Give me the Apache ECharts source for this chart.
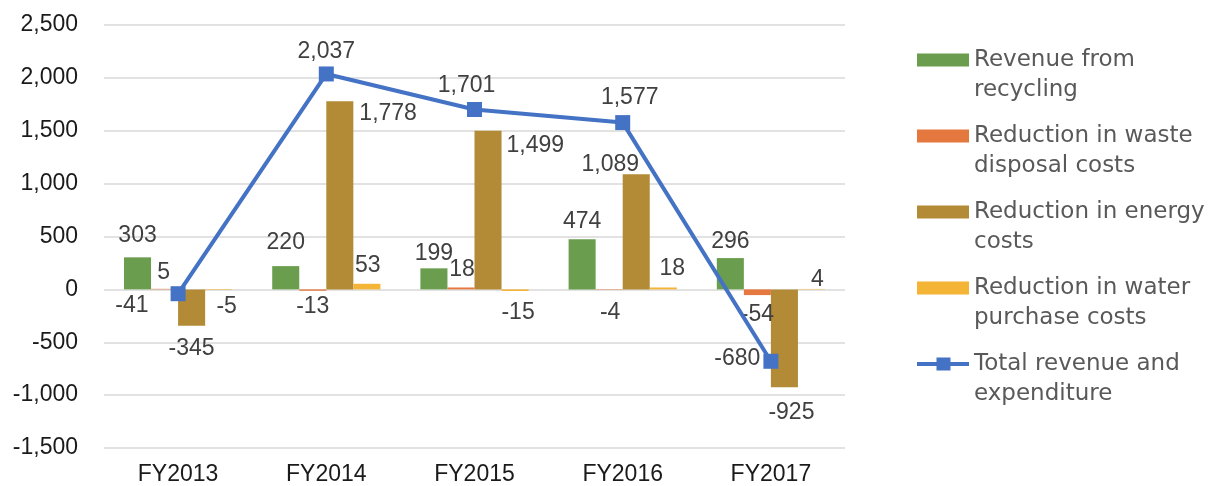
<!DOCTYPE html>
<html>
<head>
<meta charset="utf-8">
<script src="https://cdn.jsdelivr.net/npm/echarts@6/dist/echarts.min.js"></script>
<style>
html,body{margin:0;padding:0;background:#fff;}
#c{width:1212px;height:486px;}
</style>
</head>
<body>
<div id="c"></div>
<script>
const categories = ['FY2013', 'FY2014', 'FY2015', 'FY2016', 'FY2017'];
const recycling = [303, 220, 199, 474, 296];
const wasteDisposal = [5, -13, 18, -4, -54];
const energy = [-345, 1778, 1499, 1089, -925];
const water = [-5, 53, -15, 18, 4];
const total = [-41, 2037, 1701, 1577, -680];
const seriesNames = ['Revenue from recycling', 'Reduction in waste disposal costs', 'Reduction in energy costs', 'Reduction in water purchase costs', 'Total revenue and expenditure'];
const legendLabels = ['Revenue from\nrecycling', 'Reduction in waste\ndisposal costs', 'Reduction in energy\ncosts', 'Reduction in water\npurchase costs', 'Total revenue and\nexpenditure'];
const yTicks = {min: -1500, max: 2500, interval: 500};

const colors = ['#6A9E4E', '#E5783F', '#B38A35', '#F4B436', '#4472C4'];
const fmt = v => v.toLocaleString('en-US');
const labelFont = {fontFamily: 'Liberation Sans', fontSize: 23, color: '#404040'};

// label placement tweaks (style only)
const barLabelTweaks = [
  [{distance: 10}, {distance: 12}, {distance: 3}, {distance: 6}, {distance: 5}],
  [{distance: 5, offset: [-1, 0]}, {distance: 4}, {distance: 6, offset: [1, 0]}, {distance: 11, offset: [1, 0]}, {distance: 8}],
  [{distance: 11, offset: [0, 0]},
   {position: ['100%', 0], align: 'left', verticalAlign: 'top', offset: [6, 1]},
   {position: ['100%', 0], align: 'left', verticalAlign: 'top', offset: [5, 3]},
   {distance: -2, offset: [-26, 0]},
   {distance: 14, offset: [7, 0]}],
  [{distance: 5, offset: [8, 0]}, {distance: 7, offset: [1, 0]}, {distance: 10, offset: [3, 0]}, {distance: 7, offset: [9, 0]}, {distance: -2, offset: [6, 0]}]
];
const lineLabelTweaks = [
  {position: 'left', distance: 22, offset: [0, 12]},
  {position: 'top', distance: 3},
  {position: 'top', distance: 5, offset: [-8, 0]},
  {position: 'top', distance: 6, offset: [7, 0]},
  {position: 'left', distance: 3, offset: [0, -3]}
];

function barData(values, si) {
  return values.map((v, i) => {
    const t = barLabelTweaks[si][i];
    return {
      value: v,
      label: Object.assign({position: v >= 0 ? 'top' : 'bottom'}, t)
    };
  });
}

const barSeries = [recycling, wasteDisposal, energy, water].map((vals, si) => ({
  name: seriesNames[si],
  type: 'bar',
  data: barData(vals, si),
  itemStyle: {color: colors[si]},
  barGap: '0%',
  barCategoryGap: '27%',
  label: Object.assign({show: true, formatter: p => fmt(p.value)}, labelFont),
  z: 2
}));

const lineSeries = {
  name: seriesNames[4],
  type: 'line',
  data: total.map((v, i) => ({value: v, label: lineLabelTweaks[i]})),
  symbol: 'rect',
  symbolSize: 15,
  itemStyle: {color: colors[4]},
  lineStyle: {color: colors[4], width: 4},
  label: Object.assign({show: true, formatter: p => fmt(p.value)}, labelFont),
  z: 5
};

const lineIcon = 'path://M0,4.5H19.5V0H33.5V4.5H52V8.5H33.5V13H19.5V8.5H0Z';

const chart = echarts.init(document.getElementById('c'), null, {renderer: 'canvas'});
chart.setOption({
  animation: false,
  backgroundColor: '#fff',
  color: colors,
  grid: {left: 104, right: 367, top: 25, bottom: 36, containLabel: false},
  legend: {
    orient: 'vertical',
    left: 917,
    top: 15,
    padding: 0,
    itemWidth: 52,
    itemHeight: 13,
    itemGap: -14,
    data: seriesNames.map((n, i) => i < 4 ? {name: n, icon: 'rect'} : {name: n, icon: lineIcon, itemStyle: {color: colors[4], borderWidth: 0}}),
    formatter: name => '\n' + legendLabels[seriesNames.indexOf(name)],
    textStyle: {fontFamily: 'DejaVu Sans', fontSize: 23, lineHeight: 30, color: '#595959'}
  },
  xAxis: {
    type: 'category',
    data: categories,
    axisLine: {show: false},
    axisTick: {show: false},
    axisLabel: {fontFamily: 'Liberation Sans', fontSize: 23, color: '#1a1a1a', margin: 15}
  },
  yAxis: {
    type: 'value',
    min: yTicks.min,
    max: yTicks.max,
    interval: yTicks.interval,
    axisLine: {show: false},
    axisTick: {show: false},
    splitLine: {lineStyle: {color: '#D9D9D9', width: 1.5}},
    axisLabel: {fontFamily: 'Liberation Sans', fontSize: 23, color: '#1a1a1a', margin: 26, formatter: v => fmt(v)}
  },
  series: barSeries.concat([lineSeries])
});
</script>
</body>
</html>
